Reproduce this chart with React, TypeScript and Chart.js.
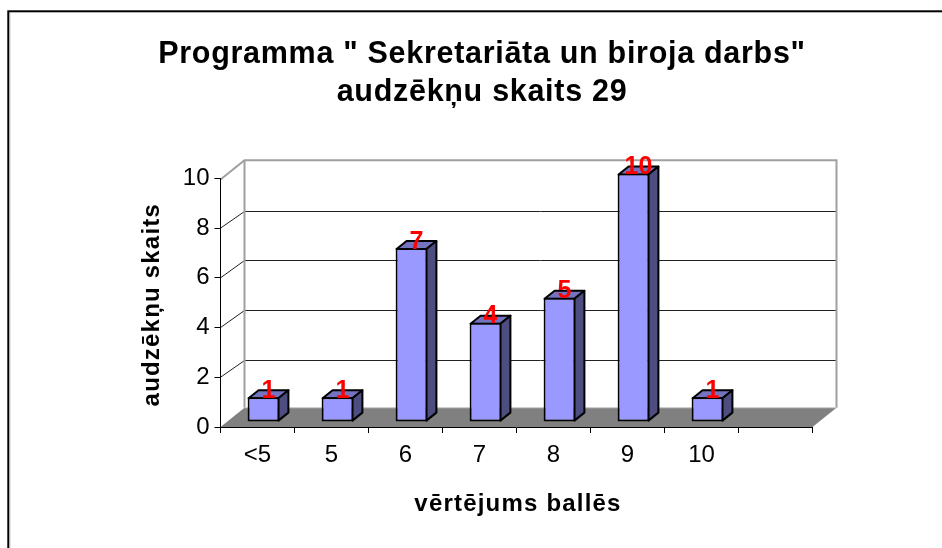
import React, { useEffect, useRef } from "react";
import { Chart, registerables } from "chart.js";

Chart.register(...registerables);

const categories = ["<5", "5", "6", "7", "8", "9", "10", ""];
const counts = [1, 1, 7, 4, 5, 10, 1, null];
const titleLines = ['Programma " Sekretariāta un biroja darbs"', "audzēkņu skaits 29"];
const yAxisTitle = "audzēkņu skaits";
const xAxisTitle = "vērtējums ballēs";

const FONT = "'Liberation Sans', Arial, sans-serif";
const WALL_DX = 24;
const WALL_DY = -19.25;
const GRID_DY = -17.6;
const BAR_SHIFT_X = 6;
const BAR_SHIFT_Y = -4.9;
const BAR_DX = 10;
const BAR_DY = 8;

function spaced(ctx: any, target: any, method: string, spacing: string, dx: number, dy: number) {
  if (target.__spaced) return;
  target.__spaced = true;
  const original = target[method].bind(target);
  target[method] = (...args: any[]) => {
    ctx.save();
    ctx.letterSpacing = spacing;
    ctx.translate(dx, dy);
    original(...args);
    ctx.restore();
  };
}

const scenePlugin = {
  id: "scene3d",
  afterLayout(chart: any) {
    spaced(chart.ctx, chart.scales.x, "drawTitle", "1.2px", 1.5, 0);
    spaced(chart.ctx, chart.scales.y, "drawTitle", "1.2px", 0, 2);
    if (chart.titleBlock) spaced(chart.ctx, chart.titleBlock, "draw", "0.7px", 0, 0);
  },
  beforeDraw(chart: any) {
    const { ctx, chartArea: a, scales } = chart;
    const y = scales.y;
    ctx.save();
    ctx.fillStyle = "#fff";
    ctx.fillRect(0, 0, chart.width, chart.height);
    // outer frame, cut by the picture edge on the right and bottom
    ctx.strokeStyle = "#000";
    ctx.lineWidth = 2;
    ctx.strokeRect(8.3, 11.3, 1200, 900);
    ctx.strokeStyle = "#aaa";
    ctx.lineWidth = 1;
    ctx.beginPath();
    ctx.moveTo(9.8, 13);
    ctx.lineTo(9.8, chart.height);
    ctx.stroke();

    const y0 = y.getPixelForValue(0);
    const yTop = y.getPixelForValue(10);
    // floor
    ctx.fillStyle = "#808080";
    ctx.beginPath();
    ctx.moveTo(a.left, y0);
    ctx.lineTo(a.right, y0);
    ctx.lineTo(a.right + WALL_DX, y0 + WALL_DY);
    ctx.lineTo(a.left + WALL_DX, y0 + WALL_DY);
    ctx.closePath();
    ctx.fill();
    // back-wall grid
    ctx.strokeStyle = "#222";
    ctx.lineWidth = 1;
    for (const t of y.ticks) {
      if (t.value === 0 || t.value === 10) continue;
      const p = y.getPixelForValue(t.value);
      const by = Math.round(p + GRID_DY) + 0.5;
      ctx.beginPath();
      ctx.moveTo(a.left, p);
      ctx.lineTo(a.left + WALL_DX, by);
      ctx.lineTo(a.right + WALL_DX, by);
      ctx.stroke();
    }
    // wall outline
    ctx.strokeStyle = "#a0a0a0";
    ctx.lineWidth = 2;
    ctx.beginPath();
    ctx.moveTo(a.left, yTop + 1);
    ctx.lineTo(a.left + WALL_DX, yTop + WALL_DY + 1);
    ctx.lineTo(a.right + WALL_DX, yTop + WALL_DY + 1);
    ctx.lineTo(a.right + WALL_DX, y0 + WALL_DY);
    ctx.moveTo(a.left + WALL_DX, yTop + WALL_DY + 1);
    ctx.lineTo(a.left + WALL_DX, y0 + WALL_DY);
    ctx.stroke();
    ctx.strokeStyle = "#c8c8c8";
    ctx.lineWidth = 1;
    ctx.beginPath();
    ctx.moveTo(a.left + WALL_DX, y0 + WALL_DY);
    ctx.lineTo(a.right + WALL_DX, y0 + WALL_DY);
    ctx.stroke();
    ctx.restore();
  },
  beforeDatasetsDraw(chart: any) {
    const ctx = chart.ctx;
    ctx.save();
    ctx.translate(BAR_SHIFT_X, BAR_SHIFT_Y);
    const meta = chart.getDatasetMeta(0);
    ctx.lineWidth = 2;
    ctx.strokeStyle = "#000";
    ctx.lineJoin = "round";
    meta.data.forEach((el: any, i: number) => {
      if (counts[i] === null) return;
      const { x, y, base, width } = el.getProps(["x", "y", "base", "width"], true);
      const l = x - width / 2 + 1;
      const r = x + width / 2 - 1;
      const t = y + 1;
      const b = base - 1;
      ctx.fillStyle = "#7373bf";
      ctx.beginPath();
      ctx.moveTo(l, t);
      ctx.lineTo(r, t);
      ctx.lineTo(r + BAR_DX, t - BAR_DY);
      ctx.lineTo(l + BAR_DX, t - BAR_DY);
      ctx.closePath();
      ctx.fill();
      ctx.stroke();
      ctx.fillStyle = "#4d4d80";
      ctx.beginPath();
      ctx.moveTo(r, t);
      ctx.lineTo(r + BAR_DX, t - BAR_DY);
      ctx.lineTo(r + BAR_DX, b - BAR_DY);
      ctx.lineTo(r, b);
      ctx.closePath();
      ctx.fill();
      ctx.stroke();
    });
  },
  afterDatasetsDraw(chart: any) {
    const ctx = chart.ctx;
    const meta = chart.getDatasetMeta(0);
    ctx.fillStyle = "#ff0000";
    ctx.font = `bold 25px ${FONT}`;
    ctx.textAlign = "center";
    ctx.textBaseline = "alphabetic";
    meta.data.forEach((el: any, i: number) => {
      if (counts[i] === null) return;
      ctx.fillText(String(counts[i]), el.x + 5, el.y + 0.5);
    });
    ctx.restore();
  },
};

export default function App() {
  const ref = useRef<HTMLCanvasElement>(null);
  useEffect(() => {
    const chart = new Chart(ref.current!, {
      type: "bar",
      data: {
        labels: categories,
        datasets: [
          {
            data: counts,
            backgroundColor: "#9999ff",
            borderColor: "#000",
            borderWidth: 2,
            borderSkipped: false,
            categoryPercentage: 1,
            barPercentage: 0.43,
          },
        ],
      },
      plugins: [scenePlugin],
      options: {
        responsive: false,
        animation: false,
        layout: { autoPadding: false, padding: { left: 22, right: 0, top: 0, bottom: 22 } },
        plugins: {
          legend: { display: false },
          tooltip: { enabled: false },
          title: {
            display: true,
            text: titleLines,
            color: "#000",
            font: { family: FONT, size: 30.5, weight: "bold", lineHeight: 1.246 },
            padding: { top: 36, bottom: 66.4 },
          },
        },
        scales: {
          x: {
            offset: true,
            grid: { display: true, offset: true, drawOnChartArea: false, drawTicks: true, tickLength: 6, color: "#000" },
            border: { display: true, color: "#000", width: 1 },
            ticks: { color: "#000", font: { family: FONT, size: 24 }, padding: 8, maxRotation: 0, autoSkip: false },
            title: {
              display: true,
              text: xAxisTitle,
              color: "#000",
              font: { family: FONT, size: 24, weight: "bold" },
              padding: { top: 0, bottom: 7.5 },
            },
            afterFit(scale: any) {
              scale.height = 548 - 22 - 427;
            },
          },
          y: {
            min: 0,
            max: 10,
            position: "left",
            grid: { display: true, drawOnChartArea: false, drawTicks: true, tickLength: 6, color: "#000" },
            border: { display: true, color: "#000", width: 1 },
            ticks: { color: "#000", font: { family: FONT, size: 24 }, padding: 5, stepSize: 2 },
            title: {
              display: true,
              text: yAxisTitle,
              color: "#000",
              font: { family: FONT, size: 24, weight: "bold" },
              padding: { top: 115.5, bottom: 0 },
            },
            afterFit(scale: any) {
              scale.width = 220.5 - 22;
            },
          },
          spacer: {
            type: "linear",
            position: "right",
            display: true,
            grid: { display: false },
            border: { display: false },
            ticks: { display: false },
            afterFit(scale: any) {
              scale.width = 942 - 812.5;
            },
          },
        },
      } as any,
    });
    return () => chart.destroy();
  }, []);
  return (
    <div style={{ position: "fixed", left: 0, top: 0, width: 942, height: 548, overflow: "hidden" }}>
      <canvas ref={ref} width={942} height={548} style={{ display: "block" }} />
    </div>
  );
}
